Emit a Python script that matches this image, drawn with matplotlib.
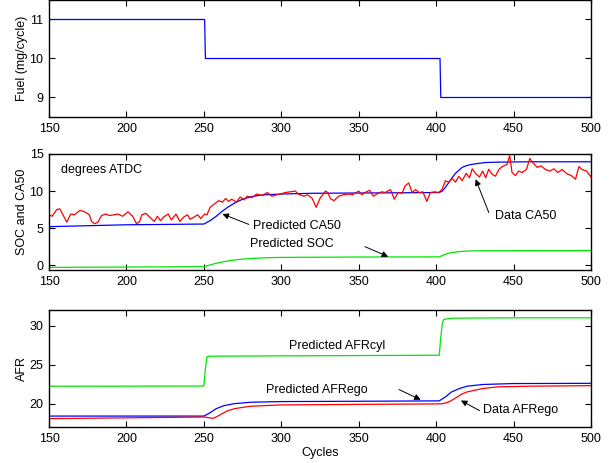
import matplotlib

matplotlib.use("Agg")
import matplotlib.pyplot as plt

plt.rcParams["font.family"] = ["Liberation Sans", "DejaVu Sans"]
plt.rcParams["font.size"] = 9

# --- top panel: fuel command ---
fuel_cycles = [150, 250.5, 251, 402.5, 403, 500]
fuel_mg = [11, 11, 10, 10, 9, 9]

# --- middle panel: CA50 / SOC ---
ca50_data_cycles = [
    150, 152, 155, 157, 159, 161.5, 164, 166.5, 170, 173, 176, 177.5, 179.5, 181.5,
    184, 186.5, 189, 192, 194.5, 197.5, 201, 204, 206.5, 208.5, 210, 212.5, 215, 218,
    220, 222, 224, 227, 229, 232, 234.5, 237, 239.5, 241, 243, 246, 248, 250.5, 252,
    254, 257, 259.5, 262, 264, 266, 268, 271, 273.5, 276, 278, 281, 284, 287.5, 291,
    294, 297, 299.5, 302.5, 306, 309, 311, 314.5, 317, 320, 322.5, 325, 328.5, 330,
    331.7, 334, 337, 340, 344, 346, 350, 352, 354, 357, 359.5, 362.5, 365, 367, 370.5,
    373, 375.5, 378, 380, 382.3, 384.5, 386.6, 389, 391.4, 394, 396.3, 399, 401.7,
    404, 406, 408, 410.3, 412.5, 414.6, 416.8, 419.4, 421.5, 423.3, 425.8, 428, 430,
    432, 434, 436, 438.3, 440.5, 442.6, 445.8, 447.5, 449, 451.2, 453.3, 455.5, 458.3,
    460.5, 462.6, 465.2, 467.8, 470.6, 473.4, 476, 478.6, 481.4, 484.6, 487.2, 490,
    492.2, 494.3, 497.1, 500,
]
ca50_data = [
    6.8, 6.6, 7.5, 7.6, 6.8, 5.8, 6.9, 6.8, 7.4, 7.2, 6.8, 5.9, 5.6, 5.8,
    6.7, 6.9, 6.7, 6.8, 6.9, 6.6, 7.2, 6.6, 5.6, 5.9, 6.8, 7.0, 6.5, 5.9,
    6.6, 6.0, 6.5, 6.9, 6.1, 6.9, 5.9, 6.5, 6.8, 6.2, 6.4, 6.8, 6.3, 6.9, 6.8,
    7.8, 8.3, 8.7, 8.5, 9.0, 8.6, 8.9, 8.5, 9.2, 8.8, 9.3, 9.1, 9.6, 9.4, 9.8,
    9.3, 9.5, 9.6, 9.8, 9.9, 10.0, 9.6, 9.3, 9.5, 9.0, 7.8, 9.0, 10.0, 9.8,
    9.0, 8.7, 9.3, 9.5, 9.6, 9.5, 10.0, 9.5, 9.8, 10.1, 9.3, 9.7, 9.9, 9.8, 10.2,
    8.9, 9.8, 9.7, 10.7, 11.1, 9.8, 10.2, 9.8, 9.9, 8.6, 9.8, 9.9, 9.8,
    10.3, 11.4, 11.2, 11.7, 11.2, 12.0, 11.4, 12.4, 11.8, 13.0, 12.3, 11.9, 12.7,
    11.8, 12.95, 12.3, 12.0, 12.9, 13.3, 13.6, 14.8, 12.5, 12.1, 12.7, 12.5, 12.9,
    14.4, 13.8, 13.2, 13.4, 12.9, 12.7, 13.0, 12.5, 12.9, 12.3, 12.1, 11.6,
    13.3, 12.9, 12.7, 11.9,
]
ca50_pred_cycles = [150, 200, 250, 254, 258, 262, 266, 270, 275, 280, 285, 290, 300, 320,
                    360, 402, 404, 406, 408, 410, 412.5, 416.8, 420, 423, 428, 432, 440, 460, 500]
ca50_pred = [5.2, 5.45, 5.55, 6.0, 6.6, 7.3, 7.9, 8.4, 8.9, 9.2, 9.4, 9.5, 9.6, 9.7,
             9.75, 9.8, 10.0, 10.5, 11.1, 11.7, 12.4, 13.2, 13.45, 13.6, 13.75, 13.85, 13.9, 13.95, 13.95]
soc_cycles = [150, 200, 250, 255, 260, 265, 270, 275, 280, 290, 300, 350, 402, 404, 407,
              410, 415, 420, 430, 500]
soc_pred = [-0.3, -0.25, -0.2, 0.1, 0.35, 0.55, 0.7, 0.82, 0.9, 1.0, 1.05, 1.1, 1.12, 1.3,
            1.55, 1.7, 1.83, 1.9, 1.95, 1.97]

# --- bottom panel: AFR ---
afrcyl_cycles = [150, 250, 251, 252, 254, 300, 402, 403, 404, 405, 410, 450, 500]
afrcyl_pred = [22.23, 22.25, 24.5, 26.0, 26.08, 26.12, 26.2, 28.5, 30.3, 30.8, 30.95, 31.0, 31.0]
afrego_cycles = [150, 250, 253, 258, 263, 270, 280, 300, 350, 402, 406, 410, 415, 420, 430,
                 450, 500]
afrego_pred = [18.4, 18.4, 18.7, 19.35, 19.74, 20.0, 20.17, 20.26, 20.3, 20.35, 20.86, 21.5,
               21.93, 22.23, 22.45, 22.57, 22.6]
afrego_data_cycles = [150, 250, 253, 256, 260, 265, 270, 280, 300, 350, 400, 404, 408, 412,
                      416, 420, 430, 440, 460, 500]
afrego_data = [18.07, 18.28, 18.2, 18.1, 18.5, 19.06, 19.36, 19.66, 19.83, 19.9, 19.96, 19.98,
               20.2, 20.64, 21.16, 21.5, 21.93, 22.15, 22.23, 22.3]

BLUE = "#0000ff"
RED = "#ff0000"
GREEN = "#00e600"
W, H = 615, 463


def px_axes(fig, left, top, right, bottom):
    return fig.add_axes([left / W, 1 - bottom / H, (right - left) / W, (bottom - top) / H])


def style(ax, ylim, yticks):
    ax.set_xlim(150, 500)
    ax.set_ylim(*ylim)
    ax.set_xticks(range(150, 501, 50))
    ax.set_yticks(yticks)
    ax.tick_params(direction="in", top=True, right=True, length=4, width=0.8, pad=4,
                   labelsize=9)
    for sp in ax.spines.values():
        sp.set_linewidth(1.0)


def arrow(ax, tail, head):
    ax.annotate("", xy=head, xytext=tail,
                arrowprops=dict(arrowstyle="-|>", color="k", lw=0.7, mutation_scale=9,
                                shrinkA=0, shrinkB=0))


fig = plt.figure(figsize=(W / 100, H / 100), dpi=100)

ax1 = px_axes(fig, 49, 0, 591, 117)
ax1.plot(fuel_cycles, fuel_mg, color=BLUE, lw=0.9)
style(ax1, (8.5, 11.5), [9, 10, 11])
ax1.set_ylabel("Fuel (mg/cycle)")

ax2 = px_axes(fig, 49, 154, 591, 270)
ax2.plot(ca50_pred_cycles, ca50_pred, color=BLUE, lw=0.9)
ax2.plot(soc_cycles, soc_pred, color=GREEN, lw=0.9)
ax2.plot(ca50_data_cycles, ca50_data, color=RED, lw=0.9)
style(ax2, (-0.65, 15), [0, 5, 10, 15])
ax2.set_ylabel("SOC and CA50")
ax2.text(158, 12.9, "degrees ATDC", va="center", ha="left")
ax2.text(282, 5.3, "Predicted CA50", va="center", ha="left")
arrow(ax2, (279, 5.5), (262, 6.9))
ax2.text(280, 2.85, "Predicted SOC", va="center", ha="left")
arrow(ax2, (354, 2.5), (369, 1.15))
ax2.text(438, 6.6, "Data CA50", va="center", ha="left")
arrow(ax2, (434, 7.1), (425.5, 11.6))

ax3 = px_axes(fig, 49, 310, 591, 427)
ax3.plot(afrcyl_cycles, afrcyl_pred, color=GREEN, lw=0.9)
ax3.plot(afrego_cycles, afrego_pred, color=BLUE, lw=0.9)
ax3.plot(afrego_data_cycles, afrego_data, color=RED, lw=0.9)
style(ax3, (17, 32), [20, 25, 30])
ax3.set_ylabel("AFR")
ax3.set_xlabel("Cycles", labelpad=2)
ax3.text(305, 27.4, "Predicted AFRcyl", va="center", ha="left")
ax3.text(290, 21.8, "Predicted AFRego", va="center", ha="left")
arrow(ax3, (376, 21.8), (390, 20.5))
ax3.text(430, 19.2, "Data AFRego", va="center", ha="left")
arrow(ax3, (428, 19.1), (416, 20.4))

for ax in (ax1, ax2, ax3):
    ax.yaxis.set_label_coords(-0.038, 0.5)

fig.savefig("out.png", dpi=100)
